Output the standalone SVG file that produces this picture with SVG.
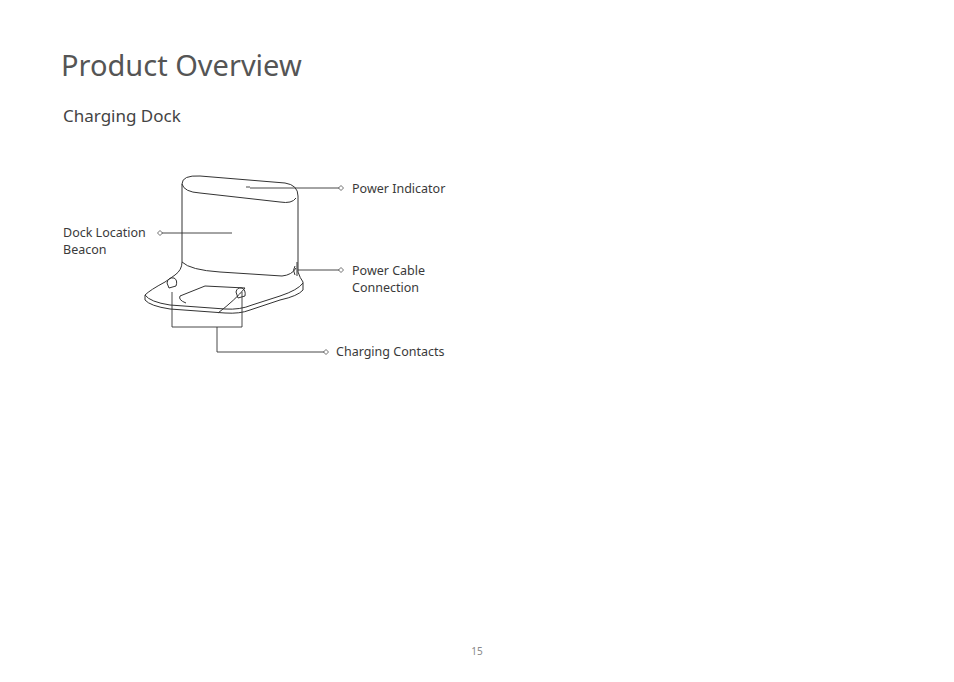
<svg xmlns="http://www.w3.org/2000/svg" width="954" height="682" viewBox="0 0 954 682">
<style>
text{font-family:"Noto Sans","Open Sans",sans-serif;fill:#3a3a3a}
.l{font-size:12.5px}
.d{fill:none;stroke:#333;stroke-width:1;stroke-linejoin:round}
.c{fill:none;stroke:#333;stroke-width:0.9}
.m{fill:#fff;stroke:#333;stroke-width:0.7}
</style>
<defs><path id="dm" d="M-2.5 0L0 -2.5L2.5 0L0 2.5Z" class="m"/></defs>
<rect width="954" height="682" fill="#fff"/>
<text x="61" y="76" font-size="29" style="fill:#555">Product Overview</text>
<text x="63" y="122" font-size="17" style="fill:#444">Charging Dock</text>
<g id="dock">
<path class="d" d="M182 262 L182 184 Q182 175 200 176 L285 183 Q298 185 298 196 L298 272 Q300 278 303 282 L303 290 Q298 296 280 300 L250 310 Q240 314 225 313 L170 309 Q150 306 145 300 L145 295 Q150 290 165 282 L175 275 Q182 270 182 262 Z"/>
<path class="d" d="M145 295 Q150 302 170 305 L225 309 Q240 310 252 305 L280 296 Q298 290 303 283"/>
<path class="d" d="M182 184 Q184 192 200 193 L280 202 Q292 204 296 198"/>
<path class="d" d="M182 262 Q190 270 220 272 L282 276 Q292 275 296 268"/>
<path class="d" d="M297 262 L297 276 M295 266 Q292 270 295 275"/>
<path class="d" d="M205 286 L245 288 Q235 300 218 313 M205 286 L180 296 Q178 300 186 303"/>
<path class="d" d="M167 283 Q168 277 174 278 Q178 280 176 286 L169 288 Z M236 292 Q237 287 242 288 Q246 290 245 296 L238 298 Z"/>
<line x1="246" y1="187" x2="250" y2="187" class="c"/>
</g>
<g id="connectors">
<path class="c" d="M250 188 H341"/><use href="#dm" x="341" y="188"/>
<path class="c" d="M161 233 H232"/><use href="#dm" x="160" y="233"/>
<path class="c" d="M298 270 H341"/><use href="#dm" x="341" y="270"/>
<path class="c" d="M172 292 V327 H242 V292 M217 327 V352 H325"/><use href="#dm" x="326" y="352"/>
</g>
<g id="labels">
<text class="l" x="352" y="193">Power Indicator</text>
<text class="l" x="63" y="237">Dock Location</text>
<text class="l" x="63" y="254">Beacon</text>
<text class="l" x="352" y="275">Power Cable</text>
<text class="l" x="352" y="292">Connection</text>
<text class="l" x="336" y="356">Charging Contacts</text>
<text x="477" y="655" font-size="10" text-anchor="middle" style="fill:#888">15</text>
</g>
</svg>
